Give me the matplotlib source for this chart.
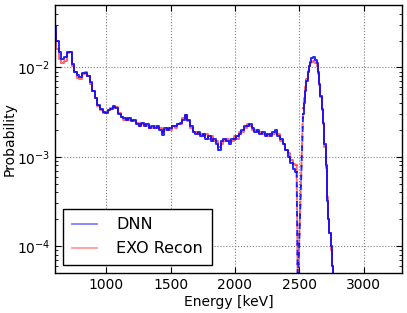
import matplotlib
matplotlib.use("Agg")

import matplotlib.pyplot as plt
import numpy as np

# Energy bins (keV)
energy = [600, 620, 640, 660, 680, 700, 720, 740, 760, 780,
          800, 820, 840, 860, 880, 900, 920, 940, 960, 980,
          1000, 1020, 1040, 1060, 1080, 1100, 1120, 1140, 1160, 1180,
          1200, 1220, 1240, 1260, 1280, 1300, 1320, 1340, 1360, 1380,
          1400, 1420, 1440, 1460, 1480, 1500, 1520, 1540, 1560, 1580,
          1600, 1620, 1640, 1660, 1680, 1700, 1720, 1740, 1760, 1780,
          1800, 1820, 1840, 1860, 1880, 1900, 1920, 1940, 1960, 1980,
          2000, 2020, 2040, 2060, 2080, 2100, 2120, 2140, 2160, 2180,
          2200, 2220, 2240, 2260, 2280, 2300, 2320, 2340, 2360, 2380,
          2400, 2420, 2440, 2460, 2480, 2488,
          2530, 2540, 2550, 2560, 2570, 2580, 2590, 2600, 2610, 2620,
          2630, 2640, 2650, 2660, 2670, 2680, 2690, 2700, 2710, 2720,
          2730, 2740, 2750, 2760, 2770]

dnn = [0.029, 0.020, 0.0150, 0.0125, 0.0130, 0.0150, 0.0150, 0.0110, 0.0090, 0.0082,
       0.0078, 0.0086, 0.0087, 0.0081, 0.0068, 0.0055, 0.0045, 0.0038, 0.0034, 0.0032,
       0.0031, 0.0033, 0.0034, 0.0037, 0.0035, 0.0030, 0.0028, 0.0027, 0.0026, 0.0027,
       0.0025, 0.0026, 0.0023, 0.0022, 0.0024, 0.0022, 0.0023, 0.0021, 0.0022, 0.0021,
       0.0022, 0.0020, 0.00175, 0.0021, 0.0020, 0.0021, 0.0022, 0.0022, 0.0023, 0.0024,
       0.0026, 0.0029, 0.0026, 0.0022, 0.0019, 0.0018, 0.0019, 0.0017, 0.0018, 0.0016,
       0.0017, 0.0015, 0.0016, 0.0014, 0.0012, 0.0015, 0.0016, 0.0015, 0.0014, 0.0016,
       0.0016, 0.0017, 0.0018, 0.0020, 0.0022, 0.0022, 0.0023, 0.0021, 0.0019, 0.0020,
       0.0018, 0.0019, 0.0017, 0.0018, 0.0017, 0.0019, 0.0020, 0.0017, 0.0016, 0.0014,
       0.0012, 0.0010, 0.00085, 0.00072, 0.00068, 3e-5,
       0.0030, 0.0040, 0.0055, 0.0070, 0.0088, 0.0105, 0.0115, 0.0126, 0.0130, 0.0130,
       0.0122, 0.0112, 0.0088, 0.0066, 0.0048, 0.0034, 0.0024, 0.0014, 0.0008, 0.00032,
       0.00020, 0.00014, 0.00010, 0.00006, 0.00001]

exo = [0.025, 0.016, 0.0125, 0.0112, 0.0118, 0.0145, 0.0148, 0.0105, 0.0088, 0.0077,
       0.0074, 0.0085, 0.0088, 0.0080, 0.0066, 0.0054, 0.0046, 0.0037, 0.0033, 0.0031,
       0.0032, 0.0033, 0.0035, 0.0036, 0.0036, 0.0031, 0.0028, 0.0026, 0.0027, 0.0026,
       0.0026, 0.0025, 0.0024, 0.0022, 0.0023, 0.0023, 0.0022, 0.0021, 0.0021, 0.0022,
       0.0021, 0.0021, 0.0019, 0.0020, 0.0021, 0.0020, 0.0022, 0.0021, 0.0023, 0.0023,
       0.0027, 0.0029, 0.0025, 0.0021, 0.0019, 0.0019, 0.0018, 0.0018, 0.0017, 0.0018,
       0.0016, 0.0017, 0.0015, 0.0015, 0.0013, 0.0014, 0.0015, 0.0016, 0.0015, 0.0015,
       0.0017, 0.0016, 0.0019, 0.0019, 0.0021, 0.0023, 0.0022, 0.0020, 0.0020, 0.0019,
       0.0019, 0.0018, 0.0018, 0.0017, 0.0018, 0.0018, 0.0019, 0.0018, 0.0015, 0.0014,
       0.0012, 0.0011, 0.00092, 0.00082, 0.00080, 3e-5,
       0.0035, 0.0046, 0.0060, 0.0075, 0.0092, 0.0105, 0.0112, 0.0116, 0.0117, 0.0116,
       0.0112, 0.0104, 0.0085, 0.0064, 0.0047, 0.0033, 0.0023, 0.0013, 0.00075, 0.00035,
       0.00020, 0.00014, 0.00009, 0.00006, 0.00001]

energy = np.array(energy)
dnn = np.array(dnn)
exo = np.array(exo)

# the empty bin before the peak is drawn dashed
gap = int(np.where(energy == 2488)[0][0])

plt.rcParams["font.family"] = "DejaVu Sans"
fig = plt.figure(figsize=(4.07, 3.13), dpi=100)
ax = fig.add_axes([0.135, 0.128, 0.853, 0.856])

series = [(exo, "red", 0.6), (dnn, "blue", 0.85)]
for vals, col, a in series:
    ax.plot(energy[:gap], vals[:gap], color=col, alpha=a, lw=1.4,
            drawstyle="steps-mid")
    ax.plot(energy[gap - 1:gap + 2], vals[gap - 1:gap + 2], color=col, alpha=a,
            lw=1.4, ls=(0, (3, 2)))
    ax.plot(energy[gap + 1:], vals[gap + 1:], color=col, alpha=a, lw=1.4,
            drawstyle="steps-mid")

ax.set_yscale("log")
ax.set_xlim(600, 3300)
ax.set_ylim(5e-5, 5e-2)
ax.set_xticks([1000, 1500, 2000, 2500, 3000])
ax.grid(True, which="major", color="gray", ls=":", lw=0.8)
ax.tick_params(which="both", direction="in", top=True, right=True, labelsize=10)
ax.tick_params(which="major", length=4)
ax.tick_params(which="minor", length=2)
for s in ax.spines.values():
    s.set_linewidth(1.0)

ax.set_xlabel("Energy [keV]", fontsize=10, labelpad=2)
ax.set_ylabel("Probability", fontsize=10)
ax.yaxis.set_label_coords(-0.11, 0.5)

h_dnn, = ax.plot([], [], color="blue", alpha=0.5, lw=1.3)
h_exo, = ax.plot([], [], color="red", alpha=0.4, lw=1.3)
ax.legend([h_dnn, h_exo], ["DNN", "EXO Recon"], loc="lower left",
          bbox_to_anchor=(0.023, 0.03), borderaxespad=0, fontsize=11.5,
          fancybox=False, edgecolor="black", framealpha=1, borderpad=0.55,
          handlelength=1.6, handletextpad=1.2, labelspacing=0.55)

fig.savefig("out.png", dpi=100)
